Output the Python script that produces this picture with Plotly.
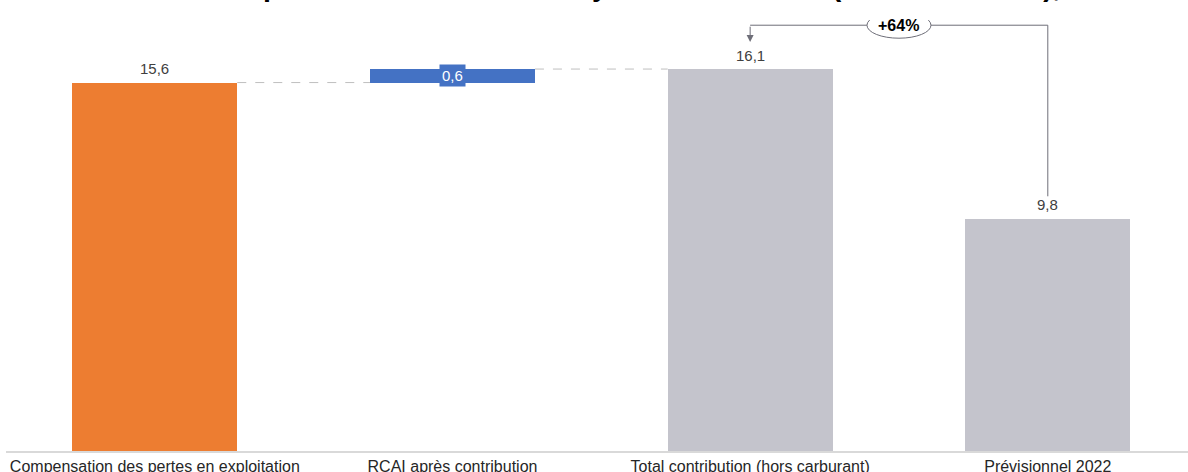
import plotly.graph_objects as go

categories = ["Compensation des pertes en exploitation", "RCAI après contribution",
              "Total contribution (hors carburant)", "Prévisionnel 2022"]
bases = [0, 15.55, 0, 0]
values = [15.55, 0.57, 16.12, 9.8]
labels = ["15,6", "0,6", "16,1", "9,8"]
colors = ["#ED7D31", "#4472C4", "#C4C4CC", "#C4C4CC"]
change_label = "+64%"
title = "Montant de la compensation financière moyenne demandée (hors carburant), en M€"

W = 0.554
FONT = "Liberation Sans"

fig = go.Figure()
fig.add_trace(go.Bar(
    x=categories, y=values, base=bases, width=W,
    marker=dict(color=colors, line=dict(width=0)),
    hoverinfo="skip", showlegend=False,
))

# value labels
for i, (c, b, v, t) in enumerate(zip(categories, bases, values, labels)):
    top = b + v
    if i == 1:
        fig.add_annotation(x=c, y=b + v / 2, text=t, showarrow=False,
                           font=dict(family=FONT, size=15, color="white"),
                           bgcolor=colors[1], borderpad=2)
    else:
        fig.add_annotation(x=c, y=top, yshift=14, text=t, showarrow=False,
                           font=dict(family=FONT, size=15, color="#404040"))

# dashed connectors
for i in range(2):
    lvl = bases[i] + values[i]
    fig.add_shape(type="line", xref="x", yref="y",
                  x0=i + W / 2, x1=i + 1 - W / 2, y0=lvl, y1=lvl,
                  line=dict(color="#BFBFBF", width=1, dash="dash"))

# comparison bracket
top_level = 17.97
start = values[3] + 0.95
gray = "#6E6E78"
fig.add_shape(type="line", xref="x", yref="y", x0=3, x1=3, y0=start, y1=top_level,
              line=dict(color=gray, width=1))
fig.add_shape(type="line", xref="x", yref="y", x0=3, x1=2, y0=top_level, y1=top_level,
              line=dict(color=gray, width=1))
fig.add_annotation(x=2, y=values[2] + 1.14, ax=2, ay=top_level, axref="x", ayref="y",
                   xref="x", yref="y", text="", showarrow=True,
                   arrowhead=2, arrowsize=1.4, arrowwidth=1, arrowcolor=gray)
fig.add_shape(type="circle", xref="x", yref="y", xsizemode="pixel", ysizemode="pixel",
              xanchor=2.5, yanchor=top_level, x0=-32, x1=32, y0=-13, y1=13,
              fillcolor="white", line=dict(color=gray, width=1))
fig.add_annotation(x=2.5, y=top_level, text="<b>" + change_label + "</b>", showarrow=False,
                   font=dict(family=FONT, size=16, color="black"))

# clipped title
fig.add_annotation(xref="paper", yref="paper", x=0.4865, y=1.037, yanchor="bottom",
                   text="<b>" + title + "</b>", showarrow=False,
                   font=dict(family=FONT, size=28.6, color="black"))

fig.update_layout(
    width=1188, height=472,
    margin=dict(l=6, r=0, t=20, b=21, autoexpand=False),
    paper_bgcolor="white", plot_bgcolor="white",
    bargap=0,
    xaxis=dict(range=[-0.5, 3.471], showgrid=False, showline=True, automargin=False,
               linecolor="#D9D9D9", linewidth=2, ticks="",
               tickfont=dict(family=FONT, size=16, color="#262626")),
    yaxis=dict(range=[0, 18.19], visible=False, showgrid=False, zeroline=False),
)

fig.write_html("out.html", config={"displayModeBar": False},
               post_script="document.body.style.margin='0';")
